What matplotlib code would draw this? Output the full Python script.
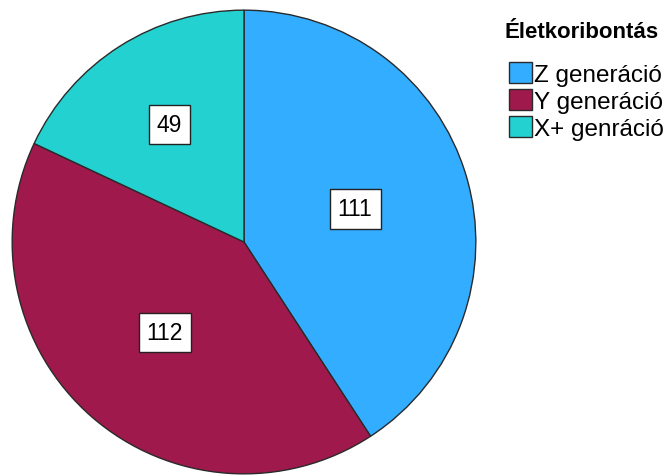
import matplotlib
matplotlib.use("Agg")
import matplotlib.pyplot as plt
import numpy as np

categories = ["Z generáció", "Y generáció", "X+ genráció"]
values = [111, 112, 49]
colors = ["#33ADFF", "#A0194C", "#23D1D1"]
label_dist = [0.5, 0.52, 0.6]
legend_title = "Életkoribontás"

plt.rcParams['font.family'] = ['Liberation Sans', 'DejaVu Sans']

W, H = 665, 477
fig = plt.figure(figsize=(W/100, H/100), dpi=100)
cx, cy, r = 244, 243, 233
ax = fig.add_axes([(cx - r)/W, (H - cy - r)/H, 2*r/W, 2*r/H])
wedges, _ = ax.pie(values, colors=colors, startangle=90, counterclock=False,
                   radius=1, wedgeprops=dict(edgecolor="#2a2a2a", linewidth=1.0))
ax.set_xlim(-1.005, 1.005)
ax.set_ylim(-1.005, 1.005)
ax.set_aspect('equal')
ax.axis('off')

for w, v, d in zip(wedges, values, label_dist):
    ang = np.deg2rad((w.theta1 + w.theta2) / 2)
    ax.text(d*np.cos(ang), d*np.sin(ang), str(v), ha='center', va='center',
            fontsize=16.5, bbox=dict(boxstyle='square,pad=0.35', fc='white', ec='#222222', lw=1))

fig.text(505/W, 1 - 32/H, legend_title, ha='left', va='center',
         fontsize=16, fontweight='bold')
leg = fig.legend(wedges, categories, loc='upper left',
                 bbox_to_anchor=(492/W, 1 - 46/H), frameon=False, fontsize=17.5,
                 handlelength=0.95, handleheight=0.95, handletextpad=0.08,
                 labelspacing=0.14, borderpad=0.2)
fig.savefig("out.png", dpi=100)
